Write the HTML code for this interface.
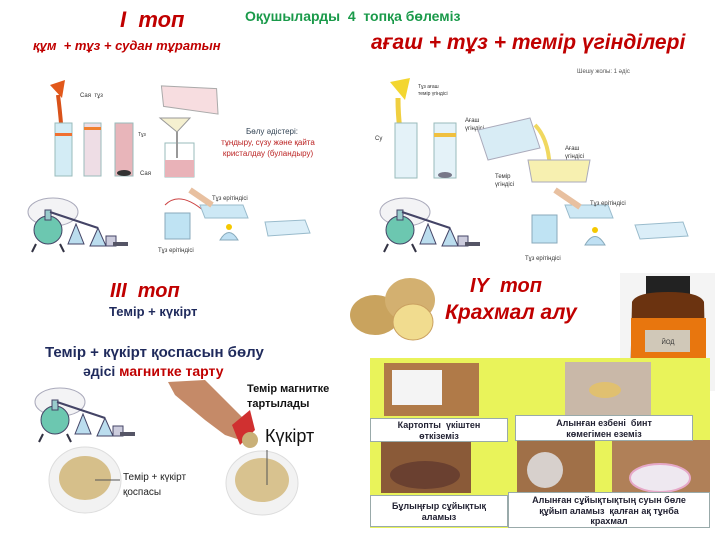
<!DOCTYPE html>
<html><head><meta charset="utf-8"><style>
html,body{margin:0;padding:0;background:#fff;}
body{width:720px;height:540px;position:relative;overflow:hidden;font-family:"Liberation Sans","DejaVu Sans",sans-serif;}
.t{position:absolute;white-space:nowrap;line-height:1;}
.red{color:#c00000;font-style:italic;font-weight:bold;}
.navy{color:#1f2a5c;font-weight:bold;}
.lbl{position:absolute;background:#fff;border:1px solid #9aa;font-size:9px;font-weight:bold;color:#223;text-align:center;line-height:10.5px;box-sizing:border-box;padding-top:1px;}
</style></head><body>

<div class="t" style="left:245px;top:9px;font-size:14px;font-weight:bold;color:#1a9a4a;">Оқушыларды&nbsp; 4&nbsp; топқа бөлеміз</div>
<div class="t red" style="left:120px;top:9px;font-size:22px;">I&nbsp; топ</div>
<div class="t red" style="left:33px;top:39px;font-size:13px;">құм&nbsp; + тұз + судан тұратын</div>
<div class="t red" style="left:371px;top:32px;font-size:21px;">ағаш + тұз + темір үгінділері</div>

<svg width="720" height="540" style="position:absolute;left:0;top:0">
<defs>
<g id="distil">
<ellipse cx="35" cy="12" rx="25" ry="14" fill="#f3f3f5" stroke="#aab" />
<circle cx="30" cy="30" r="14" fill="#6cc7b0" stroke="#446"/>
<rect x="27" y="10" width="6" height="10" fill="#9cc" stroke="#446"/>
<line x1="32" y1="12" x2="80" y2="28" stroke="#446" stroke-width="2"/>
<path d="M50 44 L58 24 L66 44 Z" fill="#bde" stroke="#446"/>
<path d="M72 46 L80 28 L88 46 Z" fill="#bde" stroke="#446"/>
<rect x="88" y="36" width="10" height="10" fill="#ccd" stroke="#446"/>
<rect x="95" y="42" width="15" height="4" fill="#556"/>
<line x1="18" y1="44" x2="14" y2="52" stroke="#334" stroke-width="2"/>
<line x1="42" y1="44" x2="46" y2="52" stroke="#334" stroke-width="2"/>
</g>
</defs>

<path d="M50 85 L65 80 L62 98 Z" fill="#e2581b"/>
<path d="M58 95 Q60 110 62 135" stroke="#d9521a" stroke-width="4" fill="none"/>
<text x="80" y="97" font-size="6" fill="#333">Сая&nbsp; тұз</text>
<rect x="55" y="123" width="17" height="53" fill="#d3ecf5" stroke="#9bb"/>
<rect x="55" y="133" width="17" height="3" fill="#f07030"/>
<rect x="84" y="123" width="17" height="53" fill="#eedde5" stroke="#9bb"/>
<rect x="84" y="127" width="17" height="3" fill="#f08030"/>
<rect x="115" y="123" width="18" height="53" fill="#e8b5ba" stroke="#9bb"/>
<ellipse cx="124" cy="173" rx="7" ry="3" fill="#333"/>
<text x="138" y="136" font-size="5" fill="#333">Тұз</text>
<text x="140" y="175" font-size="6" fill="#333">Сая</text>
<rect x="165" y="143" width="29" height="34" fill="#fff" stroke="#9bb"/>
<rect x="165" y="160" width="29" height="17" fill="#e9b2b8"/>
<path d="M160 118 L190 118 L177 132 Z" fill="#f5f0d0" stroke="#999"/>
<line x1="177" y1="132" x2="177" y2="158" stroke="#999" stroke-width="2"/>
<path d="M160 90 L215 85 L220 110 L165 110 Z" fill="#f7dde0" stroke="#aaa" transform="rotate(8 190 98)"/>
<text x="272" y="134" font-size="8" fill="#345" text-anchor="middle">Бөлу әдістері:</text>
<text x="268" y="145" font-size="8" fill="#b22" text-anchor="middle">тұндыру, сүзу және қайта</text>
<text x="268" y="156" font-size="8" fill="#b22" text-anchor="middle">кристалдау (буландыру)</text>
<use href="#distil" x="18" y="200"/>
<rect x="165" y="213" width="25" height="26" fill="#bfe3f3" stroke="#8ab"/>
<path d="M165 205 Q180 190 205 212" stroke="#c44" fill="none"/>
<path d="M200 205 L243 205 L248 218 L205 218 Z" fill="#cde8f5" stroke="#9bc"/>
<path d="M190 190 L212 205" stroke="#e8c0a0" stroke-width="6"/>
<text x="212" y="200" font-size="6" fill="#333">Тұз ерітіндісі</text>
<path d="M220 240 Q229 225 238 240 Z" fill="#bfe0f3" stroke="#8ab"/>
<circle cx="229" cy="227" r="3" fill="#f5c800"/>
<path d="M265 222 L305 220 L310 233 L268 236 Z" fill="#dbeef8" stroke="#9bc"/>
<text x="158" y="252" font-size="6" fill="#333">Тұз ерітіндісі</text>

<path d="M390 82 L410 78 L405 100 Z" fill="#f3d630"/>
<path d="M398 98 Q398 115 400 130" stroke="#f0cf40" stroke-width="5" fill="none"/>
<text x="418" y="88" font-size="5" fill="#333">Тұз ағаш</text>
<text x="418" y="95" font-size="5" fill="#333">темір үгіндісі</text>
<text x="577" y="73" font-size="6" fill="#555">Шешу жолы: 1 әдіс</text>
<rect x="395" y="123" width="22" height="55" fill="#e4f2f8" stroke="#9bb"/>
<rect x="434" y="123" width="22" height="55" fill="#e4f2f8" stroke="#9bb"/>
<rect x="434" y="133" width="22" height="4" fill="#f0c040"/>
<ellipse cx="445" cy="175" rx="7" ry="3" fill="#778"/>
<text x="465" y="122" font-size="6" fill="#333">Ағаш</text>
<text x="465" y="130" font-size="6" fill="#333">үгіндісі</text>
<text x="375" y="140" font-size="6" fill="#333">Су</text>
<path d="M478 130 L530 118 L540 148 L488 160 Z" fill="#d8ecf5" stroke="#aab"/>
<path d="M535 125 Q550 140 550 175" stroke="#f0d860" stroke-width="4" fill="none"/>
<path d="M528 160 L590 160 L586 182 L532 182 Z" fill="#f7f0b0" stroke="#aab"/>
<text x="565" y="150" font-size="6" fill="#333">Ағаш</text>
<text x="565" y="158" font-size="6" fill="#333">үгіндісі</text>
<text x="495" y="178" font-size="6" fill="#333">Темір</text>
<text x="495" y="186" font-size="6" fill="#333">үгіндісі</text>
<use href="#distil" x="370" y="200"/>
<rect x="532" y="215" width="25" height="28" fill="#bfe3f3" stroke="#8ab"/>
<path d="M565 205 L608 205 L613 218 L570 218 Z" fill="#cde8f5" stroke="#9bc"/>
<path d="M555 190 L580 207" stroke="#e8c0a0" stroke-width="6"/>
<text x="590" y="205" font-size="6" fill="#333">Тұз ерітіндісі</text>
<path d="M585 245 Q595 228 605 245 Z" fill="#bfe0f3" stroke="#8ab"/>
<circle cx="595" cy="230" r="3" fill="#f5c800"/>
<path d="M635 225 L683 222 L688 236 L640 239 Z" fill="#dbeef8" stroke="#9bc"/>
<text x="525" y="260" font-size="6" fill="#333">Тұз ерітіндісі</text>

<use href="#distil" x="25" y="390"/>
<path d="M168 382 L205 380 L230 405 L245 420 L240 440 L225 435 L205 420 L175 395 Z" fill="#c58a68"/>
<path d="M232 425 L250 410 L255 430 L240 445 Z" fill="#d03030"/>
<circle cx="250" cy="440" r="8" fill="#c9b078"/>
<ellipse cx="85" cy="480" rx="36" ry="33" fill="#f2f2f2" stroke="#ddd"/>
<ellipse cx="85" cy="478" rx="26" ry="22" fill="#d6bf8a"/>
<line x1="95" y1="480" x2="120" y2="480" stroke="#555"/>
<ellipse cx="262" cy="483" rx="36" ry="32" fill="#f2f2f2" stroke="#ddd"/>
<ellipse cx="262" cy="480" rx="27" ry="22" fill="#d8c28f"/>
<line x1="267" y1="450" x2="267" y2="485" stroke="#555"/>
<ellipse cx="375" cy="315" rx="25" ry="20" fill="#c9a35e"/>
<ellipse cx="410" cy="300" rx="25" ry="22" fill="#d3b070"/>
<ellipse cx="413" cy="322" rx="20" ry="18" fill="#f1dc8f" stroke="#caa060"/>
<rect x="620" y="273" width="95" height="118" fill="#f4f4f4"/>
<rect x="646" y="276" width="44" height="20" fill="#222"/>
<path d="M632 302 Q636 292 668 292 Q700 292 704 302 L706 388 L630 388 Z" fill="#6b3310"/>
<rect x="631" y="318" width="75" height="48" fill="#e8760e"/>
<rect x="645" y="330" width="45" height="22" fill="#d0c8b8"/>
<text x="668" y="344" font-size="6" fill="#333" text-anchor="middle">ЙОД</text>
<rect x="370" y="358" width="340" height="170" fill="#e9f35a"/>
<rect x="384" y="363" width="95" height="53" fill="#b07a48"/>
<rect x="392" y="370" width="50" height="35" fill="#f4f4f4"/>
<rect x="565" y="362" width="86" height="54" fill="#c9b8a8"/>
<ellipse cx="605" cy="390" rx="16" ry="8" fill="#e0c070"/>
<rect x="381" y="440" width="90" height="53" fill="#8a5a38"/>
<ellipse cx="425" cy="475" rx="35" ry="14" fill="#6a4030"/>
<rect x="517" y="440" width="78" height="53" fill="#a07048"/>
<circle cx="545" cy="470" r="18" fill="#d7d0cc"/>
<rect x="612" y="440" width="98" height="53" fill="#b08058"/>
<ellipse cx="660" cy="478" rx="30" ry="14" fill="#eee8f0" stroke="#e6a8c8" stroke-width="2"/>
</svg>

<div class="lbl" style="left:370px;top:418px;width:138px;height:24px;">Картопты&nbsp; үкіштен<br>өткіземіз</div>
<div class="lbl" style="left:515px;top:415px;width:178px;height:26px;padding-top:2px;">Алынған езбені&nbsp; бинт<br>көмегімен еземіз</div>
<div class="lbl" style="left:370px;top:495px;width:138px;height:32px;padding-top:5px;">Бұлыңғыр сұйықтық<br>аламыз</div>
<div class="lbl" style="left:508px;top:492px;width:202px;height:36px;padding-top:2px;">Алынған сұйықтықтың суын бөле<br>құйып аламыз&nbsp; қалған ақ тұнба<br>крахмал</div>

<div class="t red" style="left:110px;top:281px;font-size:20px;">III&nbsp; топ</div>
<div class="t navy" style="left:109px;top:305px;font-size:13px;">Темір + күкірт</div>
<div class="t navy" style="left:45px;top:345px;font-size:15px;">Темір + күкірт қоспасын бөлу</div>
<div class="t navy" style="left:83px;top:364px;font-size:14px;">әдісі <span style="color:#c00000">магнитке тарту</span></div>
<div class="t" style="left:247px;top:384px;font-size:11px;font-weight:bold;color:#111;">Темір магнитке</div>
<div class="t" style="left:247px;top:399px;font-size:11px;font-weight:bold;color:#111;">тартылады</div>
<div class="t" style="left:265px;top:427px;font-size:18px;color:#111;">Күкірт</div>
<div class="t" style="left:123px;top:473px;font-size:10px;color:#222;">Темір + күкірт</div>
<div class="t" style="left:123px;top:488px;font-size:10px;color:#222;">қоспасы</div>

<div class="t red" style="left:470px;top:276px;font-size:20px;">IY&nbsp; топ</div>
<div class="t red" style="left:445px;top:302px;font-size:21px;">Крахмал алу</div>
</body></html>
